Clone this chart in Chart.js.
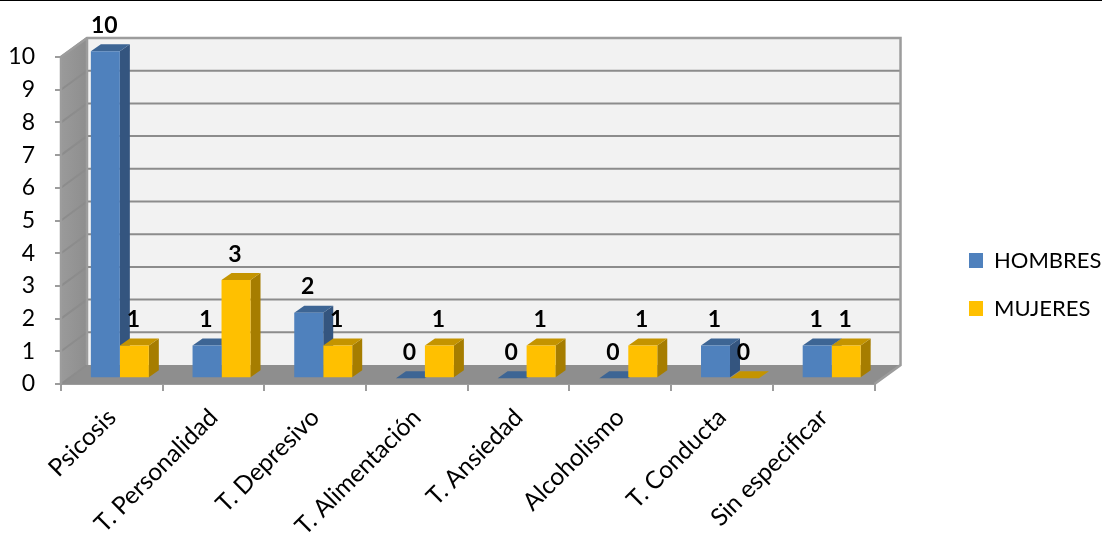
<!DOCTYPE html>
<html>
<head>
<meta charset="utf-8">
<script src="https://cdn.jsdelivr.net/npm/chart.js@4/dist/chart.umd.js"></script>
<style>
html, body { margin: 0; background: #fff; }
#topline { position: absolute; left: 0; top: 0; width: 1102px; height: 1px; background: #000; }
canvas { position: absolute; left: 0; top: 0; }
</style>
</head>
<body>
<canvas id="chart" width="1102" height="534"></canvas>
<div id="topline"></div>
<script>
// Data
const categories = ['Psicosis', 'T. Personalidad', 'T. Depresivo', 'T. Alimentación', 'T. Ansiedad', 'Alcoholismo', 'T. Conducta', 'Sin especificar'];
const hombres = [10, 1, 2, 0, 0, 0, 1, 1];
const mujeres = [1, 3, 1, 1, 1, 1, 0, 1];
const yTicks = [0, 1, 2, 3, 4, 5, 6, 7, 8, 9, 10];

// 3D look
const FONT = 'Lato';
const WALL_DX = 26, WALL_DY = -19;   // depth of the box
const BAR_SHIFT_X = 8, BAR_SHIFT_Y = -5.8;  // bars sit in the middle of the floor
const BAR_DX = 10, BAR_DY = -7;      // depth of a bar
const GRID = '#8c8c8c';
const shades = [
    { front: '#4F81BD', side: '#34557F', top: '#3D6594' },
    { front: '#FFC000', side: '#A67D00', top: '#C49400' }
];

function poly(ctx, pts, fill) {
    ctx.beginPath();
    pts.forEach((p, i) => i ? ctx.lineTo(p[0], p[1]) : ctx.moveTo(p[0], p[1]));
    ctx.closePath();
    ctx.fillStyle = fill;
    ctx.fill();
}

const box3d = {
    id: 'box3d',
    // the legend sits apart from the plot in the reference
    afterLayout(chart) {
        const lg = chart.legend;
        lg.left = 943;
        lg.right = 1102;
        lg.top -= 11;
        lg.bottom -= 11;
    },
    // walls, floor and grid
    beforeDatasetsDraw(chart) {
        const ctx = chart.ctx, a = chart.chartArea, y = chart.scales.y;
        const l = a.left, r = a.right, t = a.top, b = a.bottom;

        poly(ctx, [[l + WALL_DX, t + WALL_DY], [r + WALL_DX, t + WALL_DY], [r + WALL_DX, b + WALL_DY], [l + WALL_DX, b + WALL_DY]], '#F2F2F2');
        const wall = ctx.createLinearGradient(l, 0, l + WALL_DX, 0);
        wall.addColorStop(0, '#9a9a9a');
        wall.addColorStop(1, '#8e8e8e');
        poly(ctx, [[l, t], [l + WALL_DX, t + WALL_DY], [l + WALL_DX, b + WALL_DY], [l, b]], wall);
        poly(ctx, [[l, b], [r, b], [r + WALL_DX, b + WALL_DY], [l + WALL_DX, b + WALL_DY]], '#8e8e8e');

        ctx.strokeStyle = GRID;
        ctx.lineWidth = 2;
        yTicks.forEach(v => {
            const py = y.getPixelForValue(v);
            ctx.beginPath();
            ctx.moveTo(l, py);
            ctx.lineTo(l + WALL_DX, py + WALL_DY);
            if (v > 0) ctx.lineTo(r + WALL_DX, py + WALL_DY);
            ctx.stroke();
        });
        ctx.strokeStyle = '#9c9c9c';
        ctx.lineWidth = 2.5;
        ctx.beginPath();
        ctx.moveTo(l, b);
        ctx.lineTo(l, t);
        ctx.lineTo(l + WALL_DX, t + WALL_DY);
        ctx.lineTo(r + WALL_DX, t + WALL_DY);
        ctx.lineTo(r + WALL_DX, b + WALL_DY);
        ctx.lineTo(r, b);
        ctx.moveTo(l + WALL_DX, t + WALL_DY);
        ctx.lineTo(l + WALL_DX, b + WALL_DY);
        ctx.stroke();

        // bars are drawn by the library, only moved back; sides go in first
        ctx.save();
        ctx.translate(BAR_SHIFT_X, BAR_SHIFT_Y);
        chart.data.datasets.forEach((ds, i) => {
            chart.getDatasetMeta(i).data.forEach(bar => {
                const x0 = bar.x - bar.width / 2, x1 = bar.x + bar.width / 2;
                poly(ctx, [[x1, bar.y], [x1 + BAR_DX, bar.y + BAR_DY], [x1 + BAR_DX, bar.base + BAR_DY], [x1, bar.base]], shades[i].side);
                poly(ctx, [[x0, bar.y], [x1, bar.y], [x1 + BAR_DX, bar.y + BAR_DY], [x0 + BAR_DX, bar.y + BAR_DY]], shades[i].top);
            });
        });
    },
    afterDatasetsDraw(chart) {
        const ctx = chart.ctx;
        ctx.restore();
        // value labels above each bar
        ctx.save();
        ctx.font = 'bold 23px ' + FONT;
        ctx.fillStyle = '#000';
        ctx.textAlign = 'center';
        ctx.textBaseline = 'middle';
        chart.data.datasets.forEach((ds, i) => {
            chart.getDatasetMeta(i).data.forEach((bar, j) => {
                ctx.fillText(ds.data[j], bar.x + BAR_SHIFT_X - 1, bar.y + BAR_SHIFT_Y - 26);
            });
        });
        ctx.restore();
    }
};

new Chart(document.getElementById('chart'), {
    type: 'bar',
    data: {
        labels: categories,
        datasets: [
            { label: 'HOMBRES', data: hombres, backgroundColor: shades[0].front, clip: false },
            { label: 'MUJERES', data: mujeres, backgroundColor: shades[1].front, clip: false }
        ]
    },
    options: {
        responsive: false,
        animation: false,
        events: [],
        layout: { padding: { top: 57, right: 59 } },
        categoryPercentage: 0.57,
        barPercentage: 1,
        scales: {
            x: {
                afterFit(scale) { scale.height = 150; },
                grid: { drawOnChartArea: false, color: '#9c9c9c', lineWidth: 2, tickLength: 7 },
                border: { color: '#9c9c9c', width: 2 },
                ticks: { color: '#000', font: { family: FONT, size: 24.5 }, minRotation: 45, maxRotation: 45, padding: 12, autoSkip: false }
            },
            y: {
                min: 0,
                max: 10,
                afterFit(scale) { scale.width = 61; },
                grid: { drawOnChartArea: false, color: '#9c9c9c', lineWidth: 2, tickLength: 6 },
                border: { color: '#9c9c9c', width: 2 },
                ticks: { color: '#000', font: { family: FONT, size: 23 }, stepSize: 1, padding: 20 }
            }
        },
        plugins: {
            legend: {
                position: 'right',
                labels: { color: '#000', font: { family: FONT, size: 22 }, boxWidth: 14, boxHeight: 15, padding: 26 }
            },
            tooltip: { enabled: false }
        }
    },
    plugins: [box3d]
});
</script>
</body>
</html>
